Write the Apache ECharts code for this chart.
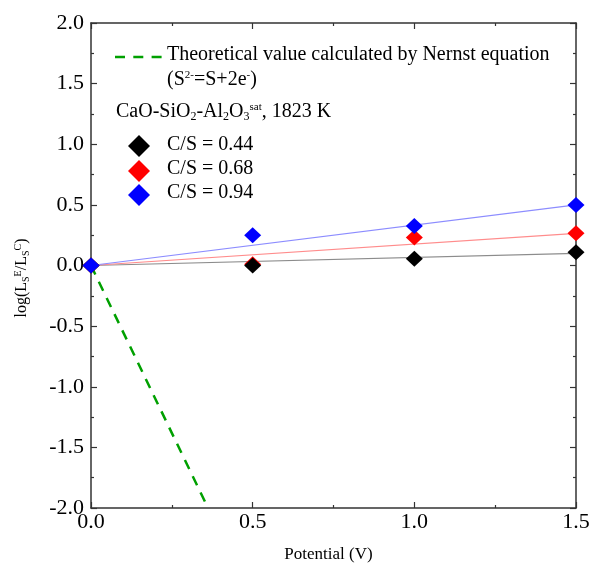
<!DOCTYPE html>
<html><head><meta charset="utf-8">
<script src="https://cdn.jsdelivr.net/npm/echarts@6/dist/echarts.min.js"></script>
<style>html,body{margin:0;padding:0;background:#fff}#chart{width:594px;height:575px}</style>
</head><body><div id="chart"></div>
<script>
// Measured sulfur distribution ratio vs. applied potential
const potential = [0, 0.5, 1.0, 1.5];
const cs044 = [0, 0.00, 0.055, 0.11];
const cs068 = [0, 0.01, 0.23, 0.265];
const cs094 = [0, 0.25, 0.325, 0.50];
// Linear fits through the origin (end points)
const fitX = [0, 1.5];
const fit044 = [0, 0.10];
const fit068 = [0, 0.265];
const fit094 = [0, 0.50];
// Nernst prediction for S2- = S + 2e- at 1823 K
const nernstX = [0, 0.362];
const nernstY = [0, -2.0];
const seriesNames = ['C/S = 0.44', 'C/S = 0.68', 'C/S = 0.94'];
const markColors = ['#000000', '#ff0000', '#0000ff'];
const fitColors = ['#8c8c8c', '#ff8c8c', '#8c8cff'];

const FONT = '"Liberation Serif", "DejaVu Serif", serif';
const pairs = (xs, ys) => xs.map((x, i) => [x, ys[i]]);

const chart = echarts.init(document.getElementById('chart'), null, {renderer: 'canvas'});

function axisCommon(showLabel, margin) {
  return {
    axisLine: {onZero: false, lineStyle: {color: '#333', width: 1.5}},
    axisTick: {inside: true, length: 6, lineStyle: {color: '#333', width: 1.2}},
    minorTick: {show: true, splitNumber: 2, length: 3, lineStyle: {color: '#333', width: 1.2}},
    splitLine: {show: false},
    minorSplitLine: {show: false},
    axisLabel: {show: showLabel, fontFamily: FONT, fontSize: 22, color: '#000', margin: margin || 6,
      formatter: v => v.toFixed(1)}
  };
}

const diamondLegend = (cy, color) => ({
  type: 'polygon', z: 100,
  shape: {points: [[139, cy - 11], [150, cy], [139, cy + 11], [128, cy]]},
  style: {fill: color}
});
const legendText = (x, y, text) => ({
  type: 'text', left: x, top: y - 12, z: 100,
  style: {text: text, font: '20px ' + FONT, fill: '#000'}
});

const richSub = {fontSize: 12, fontFamily: FONT, padding: [10, 0, 0, 0]};
const richSup = {fontSize: 11, fontFamily: FONT, padding: [0, 0, 9, 0]};

chart.setOption({
  animation: false,
  backgroundColor: '#fff',
  grid: {left: 91, top: 23, right: 18, bottom: 67, containLabel: false},
  xAxis: [
    Object.assign({type: 'value', min: 0, max: 1.5, interval: 0.5, position: 'bottom',
      name: 'Potential (V)', nameLocation: 'middle', nameGap: 38,
      nameTextStyle: {fontFamily: FONT, fontSize: 17, color: '#000', padding: [0, 10, 0, 0]}},
      axisCommon(true, 3)),
    Object.assign({type: 'value', min: 0, max: 1.5, interval: 0.5, position: 'top'}, axisCommon(false))
  ],
  yAxis: [
    Object.assign({type: 'value', min: -2, max: 2, interval: 0.5, position: 'left'}, axisCommon(true, 7)),
    Object.assign({type: 'value', min: -2, max: 2, interval: 0.5, position: 'right'}, axisCommon(false))
  ],
  graphic: [
    {type: 'line', z: 100, shape: {x1: 115, y1: 57, x2: 163, y2: 57},
      style: {stroke: '#00a000', lineWidth: 2.5, lineDash: [10, 8.3]}},
    legendText(167, 57, 'Theoretical value calculated by Nernst equation'),
    {type: 'text', left: 167, top: 70, z: 100,
      style: {rich: {n: {fontSize: 20, fontFamily: FONT}, sup: richSup},
        text: '{n|(S}{sup|2-}{n|=S+2e}{sup|-}{n|)}', fill: '#000'}},
    {type: 'text', left: 116, top: 102, z: 100,
      style: {rich: {n: {fontSize: 20, fontFamily: FONT}, sub: richSub, sup: richSup},
        text: '{n|CaO-SiO}{sub|2}{n|-Al}{sub|2}{n|O}{sub|3}{sup|sat}{n|, 1823 K}', fill: '#000'}},
    diamondLegend(146, markColors[0]), legendText(167, 147, seriesNames[0]),
    diamondLegend(171, markColors[1]), legendText(167, 171, seriesNames[1]),
    diamondLegend(195, markColors[2]), legendText(167, 195, seriesNames[2]),
    {type: 'text', x: 22, y: 278, rotation: Math.PI / 2, z: 100,
      style: {rich: {n: {fontSize: 16, fontFamily: FONT}, sub: {fontSize: 10, fontFamily: FONT, padding: [9, 0, 0, 0]},
        sup: {fontSize: 10, fontFamily: FONT, padding: [0, 0, 8, 0]}},
        text: '{n|log(L}{sub|S}{sup|E}{n|/L}{sub|S}{sup|C}{n|)}', fill: '#000',
        align: 'center', verticalAlign: 'middle'}}
  ],
  series: [
    {type: 'line', data: pairs(nernstX, nernstY), showSymbol: false, symbol: 'none',
      lineStyle: {color: '#00a000', width: 2.5, type: [10, 8]}, z: 2},
    {type: 'line', data: pairs(fitX, fit044), showSymbol: false, symbol: 'none',
      lineStyle: {color: fitColors[0], width: 1.2}, z: 2},
    {type: 'line', data: pairs(fitX, fit068), showSymbol: false, symbol: 'none',
      lineStyle: {color: fitColors[1], width: 1.2}, z: 2},
    {type: 'line', data: pairs(fitX, fit094), showSymbol: false, symbol: 'none',
      lineStyle: {color: fitColors[2], width: 1.2}, z: 2},
    {type: 'scatter', name: seriesNames[1], data: pairs(potential, cs068), symbol: 'diamond',
      symbolSize: [17, 16], itemStyle: {color: markColors[1], opacity: 1}, z: 3},
    {type: 'scatter', name: seriesNames[0], data: pairs(potential, cs044), symbol: 'diamond',
      symbolSize: [17, 16], itemStyle: {color: markColors[0], opacity: 1}, z: 4},
    {type: 'scatter', name: seriesNames[2], data: pairs(potential, cs094), symbol: 'diamond',
      symbolSize: [17, 16], itemStyle: {color: markColors[2], opacity: 1}, z: 5}
  ]
});
</script></body></html>
